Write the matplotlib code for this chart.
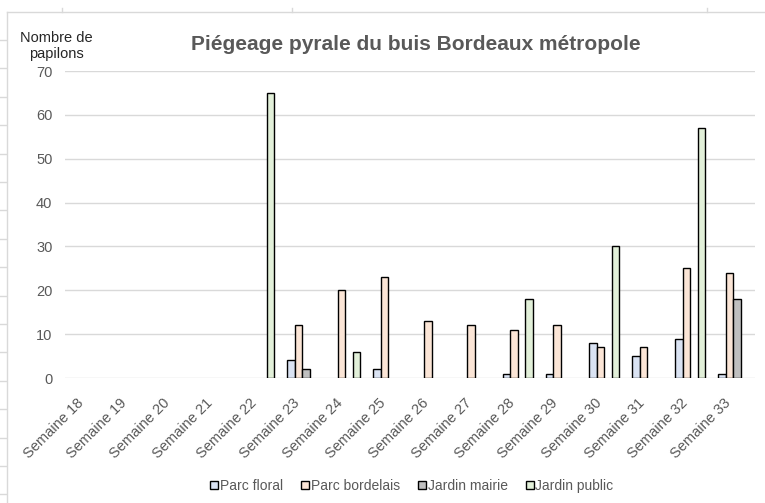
import numpy as np
import matplotlib.pyplot as plt
from matplotlib.lines import Line2D

plt.rcParams['font.family'] = ['Liberation Sans', 'DejaVu Sans']

semaines = ["Semaine %d" % s for s in range(18, 34)]
series = ["Parc floral", "Parc bordelais", "Jardin mairie", "Jardin public"]
parc_floral = [0, 0, 0, 0, 0, 4, 0, 2, 0, 0, 1, 1, 8, 5, 9, 1]
parc_bordelais = [0, 0, 0, 0, 0, 12, 20, 23, 13, 12, 11, 12, 7, 7, 25, 24]
jardin_mairie = [0, 0, 0, 0, 0, 2, 0, 0, 0, 0, 0, 0, 0, 0, 0, 18]
jardin_public = [0, 0, 0, 0, 65, 0, 6, 0, 0, 0, 18, 0, 30, 0, 57, 0]
couleurs = ["#dae3f3", "#fbe5d6", "#bfbfbf", "#e2f0d9"]

W, H = 765, 503
fig = plt.figure(figsize=(W / 100, H / 100), dpi=100)
ax = fig.add_axes([65 / W, 1 - 378 / H, 690 / W, 307 / H])

x = np.arange(len(semaines))
bw = 0.175
valeurs = [parc_floral, parc_bordelais, jardin_mairie, jardin_public]
for i, (vals, c, nom) in enumerate(zip(valeurs, couleurs, series)):
    v = np.array(vals, dtype=float)
    m = v > 0
    ax.bar(x[m] + (i - 1.5) * bw, v[m], width=bw, color=c,
           edgecolor="black", linewidth=1.0, label=nom, zorder=3)

ax.set_xlim(-0.5, len(semaines) - 0.5)
ax.set_ylim(0, 70)
ax.set_yticks(range(0, 71, 10))
ax.grid(axis="y", color="#d9d9d9", linewidth=1, zorder=0)
for s in ax.spines.values():
    s.set_visible(False)
ax.tick_params(length=0)
ax.tick_params(axis="y", labelsize=10.5, labelcolor="#595959", pad=9)
ax.set_xticks(x)
ax.set_xticklabels(semaines, rotation=45, ha="right", fontsize=10.5,
                   color="#595959")
ax.tick_params(axis="x", pad=13)

fig.text(416 / W, 1 - 45 / H, "Piégeage pyrale du buis Bordeaux métropole",
         ha="center", va="center", fontsize=15, fontweight="bold",
         color="#595959")
fig.text(56 / W, 1 - 46 / H, "Nombre de\npapilons", ha="center",
         va="center", fontsize=10.5, color="#262626", linespacing=1.1)

handles = [Line2D([], [], marker="s", linestyle="none", markersize=5.5,
                  markerfacecolor=c, markeredgecolor="black",
                  markeredgewidth=1.0) for c in couleurs]
fig.legend(handles, series, loc="center", bbox_to_anchor=(411 / W, 1 - 486 / H),
           ncol=4, frameon=False, fontsize=10, handletextpad=0.0,
           columnspacing=1.2, handlelength=0.8, labelcolor="#595959")

# cadre du graphique (bords de la feuille)
bord = "#d9d9d9"
fig.add_artist(Line2D([7 / W, 1], [1 - 12 / H, 1 - 12 / H], color=bord,
                      linewidth=1, transform=fig.transFigure))
fig.add_artist(Line2D([7 / W, 7 / W], [0, 1 - 12 / H], color=bord,
                      linewidth=1, transform=fig.transFigure))
for yy in np.arange(40, 503, 28.4):
    fig.add_artist(Line2D([0, 6 / W], [1 - yy / H, 1 - yy / H], color=bord,
                          linewidth=1, transform=fig.transFigure))
for xx in [62, 292, 707]:
    fig.add_artist(Line2D([xx / W, xx / W], [1 - 12 / H, 1 - 8 / H],
                          color=bord, linewidth=1, transform=fig.transFigure))

fig.savefig("out.png", dpi=100)
